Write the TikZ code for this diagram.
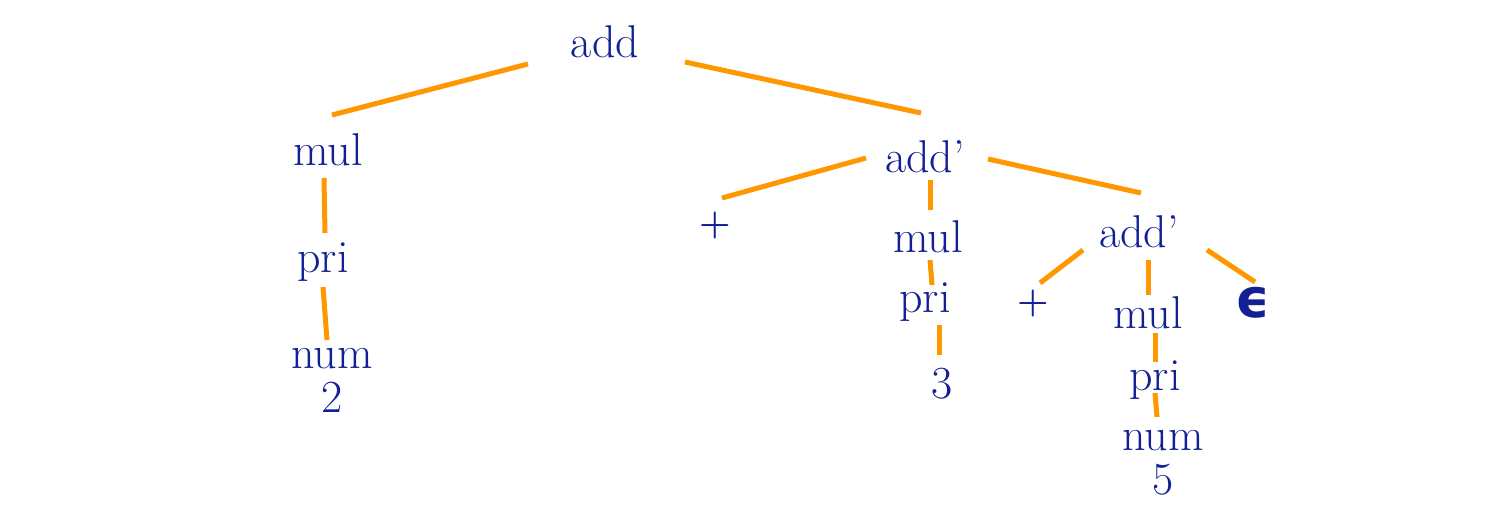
\documentclass[tikz,border=0pt]{standalone}
\usepackage{fontspec}
\usetikzlibrary{calc}
\newfontfamily\greekfont{DejaVu Sans}
\definecolor{ink}{RGB}{18,32,148}
\definecolor{branch}{RGB}{255,152,0}
\begin{document}
\begin{tikzpicture}[x=1pt,y=-1pt,
  sym/.style={anchor=base,inner sep=0pt,text=ink,align=center,
    font=\fontsize{46}{44}\selectfont},
  plus/.style={sym,font=\fontsize{36}{36}\selectfont\bfseries},
  empty/.style={sym,font=\greekfont\bfseries\fontsize{54}{54}\selectfont},
  edge/.style={draw=branch,line width=5pt}]
\useasboundingbox (0,0) rectangle (1494,522);
% grammar symbols of the parse tree (anchored on the last baseline)
\node[sym]   (add)   at (605,57)  {add};
\node[sym]   (mulL)  at (328,165) {mul};
\node[sym]   (priL)  at (323,272) {pri};
\node[sym]   (numL)  at (332,412) {num\\2};
\node[sym]   (addM)  at (925,172) {add’};
\node[plus]  (plusM) at (715,234) {+};
\node[sym]   (mulM)  at (928,252) {mul};
\node[sym]   (priM)  at (925,312) {pri};
\node[sym]   (three) at (942,398) {3};
\node[sym]   (addR)  at (1139,247) {add’};
\node[plus]  (plusR) at (1033,312) {+};
\node[sym]   (mulR)  at (1148,328) {mul};
\node[sym]   (priR)  at (1155,390) {pri};
\node[sym]   (numR)  at (1163,494) {num\\5};
\node[empty] (eps)   at (1253,317) {ϵ};
% branches
\draw[edge] ($(add.base)+(-77,7)$)    -- ($(mulL.base)+(4,-50)$);
\draw[edge] ($(add.base)+(80,5)$)     -- ($(addM.base)+(-4,-59)$);
\draw[edge] ($(mulL.base)+(-4,13)$)   -- ($(priL.base)+(2,-39)$);
\draw[edge] ($(priL.base)+(0,15)$)    -- ($(numL.base)+(-5,-72)$);
\draw[edge] ($(addM.base)+(-59,-14)$) -- ($(plusM.base)+(7,-36)$);
\draw[edge] ($(addM.base)+(5,8)$)     -- ($(mulM.base)+(2,-42)$);
\draw[edge] ($(addM.base)+(63,-13)$)  -- ($(addR.base)+(2,-54)$);
\draw[edge] ($(mulM.base)+(2,8)$)     -- ($(priM.base)+(7,-27)$);
\draw[edge] ($(priM.base)+(14,13)$)   -- ($(three.base)+(-3,-43)$);
\draw[edge] ($(addR.base)+(-56,3)$)   -- ($(plusR.base)+(7,-29)$);
\draw[edge] ($(addR.base)+(9,13)$)    -- ($(mulR.base)+(0,-33)$);
\draw[edge] ($(addR.base)+(68,3)$)    -- ($(eps.base)+(2,-35)$);
\draw[edge] ($(mulR.base)+(7,5)$)     -- ($(priR.base)+(0,-28)$);
\draw[edge] ($(priR.base)+(0,3)$)     -- ($(numR.base)+(-6,-77)$);
\end{tikzpicture}
\end{document}
